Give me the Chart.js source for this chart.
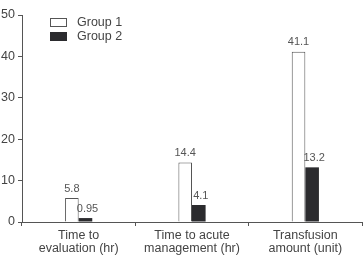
<!DOCTYPE html>
<html>
<head>
<meta charset="utf-8">
<script src="https://cdn.jsdelivr.net/npm/chart.js@4"></script>
<style>
  html, body { margin: 0; padding: 0; background: #fff; }
  #wrap { width: 363px; height: 256px; }
</style>
</head>
<body>
<div id="wrap"><canvas id="c" width="363" height="256"></canvas></div>
<script>
const categories = [
  ["Time to", "evaluation (hr)"],
  ["Time to acute", "management (hr)"],
  ["Transfusion", "amount (unit)"]
];
const group1 = [5.8, 14.4, 41.1];
const group2 = [0.95, 4.1, 13.2];
const group1Labels = ["5.8", "14.4", "41.1"];
const group2Labels = ["0.95", "4.1", "13.2"];
const yTicks = [0, 10, 20, 30, 40, 50];

const font = "'Liberation Sans', Arial, sans-serif";
const ink = "#555";

// value labels above each bar
const valueLabels = {
  id: "valueLabels",
  afterDatasetsDraw(chart) {
    const ctx = chart.ctx;
    const texts = [group1Labels, group2Labels];
    ctx.save();
    ctx.font = "11px " + font;
    ctx.fillStyle = ink;
    ctx.textAlign = "center";
    ctx.textBaseline = "bottom";
    chart.data.datasets.forEach((ds, i) => {
      chart.getDatasetMeta(i).data.forEach((bar, j) => {
        ctx.fillText(texts[i][j], bar.x + (i === 1 ? 2 : 0), bar.y - 4);
      });
    });
    ctx.restore();
  }
};

// legend drawn inside the plot, top left
const innerLegend = {
  id: "innerLegend",
  afterDraw(chart) {
    const ctx = chart.ctx;
    const x = 50, y = 18;
    ctx.save();
    ctx.font = "12.5px " + font;
    ctx.textBaseline = "middle";
    chart.data.datasets.forEach((ds, i) => {
      const top = y + i * 14;
      ctx.fillStyle = ds.backgroundColor;
      ctx.fillRect(x, top, 17, 9);
      ctx.strokeStyle = ds.borderColor;
      ctx.lineWidth = 1;
      ctx.strokeRect(x + 0.5, top + 0.5, 16, 8);
      ctx.fillStyle = "#444";
      ctx.fillText(ds.label, x + 27, top + 5);
    });
    ctx.restore();
  }
};

new Chart(document.getElementById("c"), {
  type: "bar",
  data: {
    labels: categories,
    datasets: [
      {
        label: "Group 1",
        data: group1,
        backgroundColor: "#ffffff",
        borderColor: "#555",
        borderWidth: 1,
        borderSkipped: "bottom",
        barPercentage: 1,
        categoryPercentage: 0.24
      },
      {
        label: "Group 2",
        data: group2,
        backgroundColor: "#2b2b2e",
        borderColor: "#2b2b2e",
        borderWidth: 0,
        barPercentage: 1,
        categoryPercentage: 0.24
      }
    ]
  },
  options: {
    responsive: false,
    animation: false,
    layout: { padding: { top: 15, right: 1, left: 0, bottom: 0 } },
    plugins: {
      legend: { display: false },
      tooltip: { enabled: false }
    },
    scales: {
      x: {
        grid: { offset: true, drawOnChartArea: false, drawTicks: true, tickLength: 4, color: ink },
        border: { color: ink, width: 1 },
        ticks: { color: "#444", font: { family: font, size: 12.5, lineHeight: 1.05 }, padding: 3, maxRotation: 0 },
        afterFit(scale) { scale.height = 34; }
      },
      y: {
        min: 0,
        max: 50,
        afterBuildTicks(scale) { scale.ticks = yTicks.map(v => ({ value: v })); },
        grid: { drawOnChartArea: false, drawTicks: true, tickLength: 4, color: ink },
        border: { color: ink, width: 1 },
        ticks: { color: "#444", font: { family: font, size: 12.5 }, padding: 3 },
        afterFit(scale) { scale.width = 22; }
      }
    }
  },
  plugins: [valueLabels, innerLegend]
});
</script>
</body>
</html>
